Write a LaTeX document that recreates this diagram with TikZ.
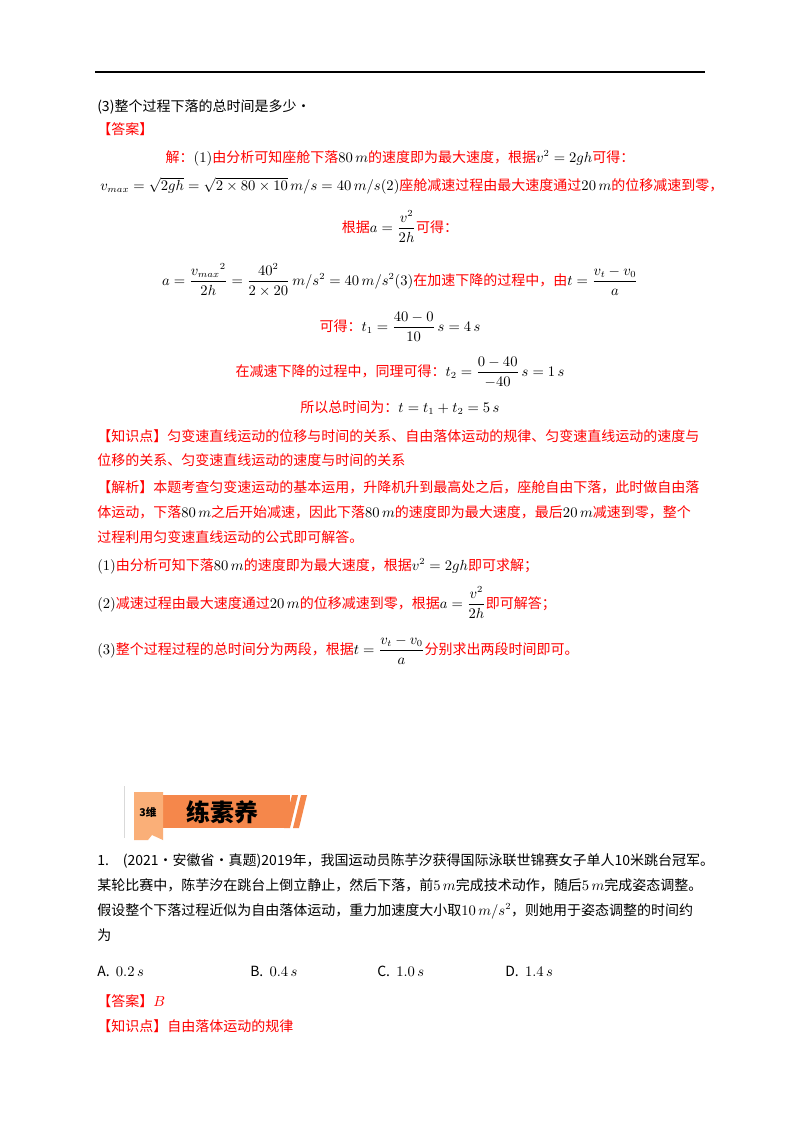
\documentclass[tikz,border=0pt]{standalone}
\usepackage{fontspec}
\usepackage{amsmath}
\setmainfont{Noto Sans CJK SC}
\begin{document}
\begin{tikzpicture}[x=0.75pt,y=-0.75pt,
  t/.style={anchor=base west,inner sep=0pt,font=\fontsize{10.5}{13}\selectfont},
  c/.style={anchor=base,inner sep=0pt,font=\fontsize{10.5}{13}\selectfont},
  r/.style={text=red}]
\definecolor{bo}{RGB}{245,135,75}
\definecolor{bl}{RGB}{250,175,120}
\useasboundingbox (0,0) rectangle (800,1132);
\fill[white] (0,0) rectangle (800,1132);
\draw[line width=0.8pt] (95,72) coordinate(ra) -- (705,72) coordinate(rb);
\node[t] (l1) at (97,111) {(3)整个过程下落的总时间是多少·};
\node[t,r] (l2) at (97,134) {【答案】};
\node[c] (l3) at (400,162) {\textcolor{red}{解：}$(1)$\textcolor{red}{由分析可知座舱下落}$80\,m$\textcolor{red}{的速度即为最大速度，根据}$v^2=2gh$\textcolor{red}{可得：}};
\node[t] (l4) at (100,190) {$v_{max}=\sqrt{2gh}=\sqrt{2\times80\times10}\,m/s=40\,m/s(2)$\textcolor{red}{座舱减速过程由最大速度通过}$20\,m$\textcolor{red}{的位移减速到零，}};
\node[c] (l5) at (400,232) {\textcolor{red}{根据}$a=\dfrac{v^2}{2h}$\textcolor{red}{可得：}};
\node[c] (l6) at (400,285) {$a=\dfrac{{v_{max}}^2}{2h}=\dfrac{40^2}{2\times20}\,m/s^2=40\,m/s^2(3)$\textcolor{red}{在加速下降的过程中，由}$t=\dfrac{v_t-v_0}{a}$};
\node[c] (l7) at (400,331) {\textcolor{red}{可得：}$t_1=\dfrac{40-0}{10}\,s=4\,s$};
\node[c] (l8) at (400,376) {\textcolor{red}{在减速下降的过程中，同理可得：}$t_2=\dfrac{0-40}{-40}\,s=1\,s$};
\node[c] (l9) at (400,412) {\textcolor{red}{所以总时间为：}$t=t_1+t_2=5\,s$};
\node[t,r] (l10) at (97,441) {【知识点】匀变速直线运动的位移与时间的关系、自由落体运动的规律、匀变速直线运动的速度与};
\node[t,r] (l11) at (97,465) {位移的关系、匀变速直线运动的速度与时间的关系};
\node[t,r] (l12) at (97,492) {【解析】本题考查匀变速运动的基本运用，升降机升到最高处之后，座舱自由下落，此时做自由落};
\node[t] (l13) at (97,517) {\textcolor{red}{体运动，下落}$80\,m$\textcolor{red}{之后开始减速，因此下落}$80\,m$\textcolor{red}{的速度即为最大速度，最后}$20\,m$\textcolor{red}{减速到零，整个}};
\node[t,r] (l14) at (97,542) {过程利用匀变速直线运动的公式即可解答。};
\node[t] (l15) at (97,570) {$(1)$\textcolor{red}{由分析可知下落}$80\,m$\textcolor{red}{的速度即为最大速度，根据}$v^2=2gh$\textcolor{red}{即可求解；}};
\node[t] (l16) at (97,608) {$(2)$\textcolor{red}{减速过程由最大速度通过}$20\,m$\textcolor{red}{的位移减速到零，根据}$a=\dfrac{v^2}{2h}$\textcolor{red}{即可解答；}};
\node[t] (l17) at (97,654) {$(3)$\textcolor{red}{整个过程过程的总时间分为两段，根据}$t=\dfrac{v_t-v_0}{a}$\textcolor{red}{分别求出两段时间即可。}};
% banner
\draw[gray!30,line width=0.6pt] (124,786) -- (124,838);
\fill[bo] (160,795) rectangle (290,828);
\fill[bo] (292,795) -- (298,795) -- (290,828) -- (284,828) -- cycle;
\fill[bo] (301,795) -- (307,795) -- (299,828) -- (293,828) -- cycle;
\fill[bl] (134,792) -- (163,792) -- (163,840) -- (152,835) -- (148,840) -- (134,840) -- cycle;
\node[font=\fontsize{8}{9}\selectfont\bfseries,inner sep=0pt] (b1) at (148,812) {3维};
\node[font=\fontsize{18}{20}\selectfont\bfseries,inner sep=0pt] (b2) at (222,812) {练素养};
\node[t] (q1) at (97,865) {1.\quad (2021·安徽省·真题)2019年，我国运动员陈芋汐获得国际泳联世锦赛女子单人10米跳台冠军。};
\node[t] (q2) at (97,890) {某轮比赛中，陈芋汐在跳台上倒立静止，然后下落，前$5\,m$完成技术动作，随后$5\,m$完成姿态调整。};
\node[t] (q3) at (97,915) {假设整个下落过程近似为自由落体运动，重力加速度大小取$10\,m/s^2$，则她用于姿态调整的时间约};
\node[t] (q4) at (97,940) {为};
\node[t] (oa) at (97,976) {A.\ \ $0.2\,s$};
\node[t] (ob) at (250,976) {B.\ \ $0.4\,s$};
\node[t] (oc) at (377,976) {C.\ \ $1.0\,s$};
\node[t] (od) at (505,976) {D.\ \ $1.4\,s$};
\node[t,r] (an) at (97,1006) {【答案】$B$};
\node[t,r] (kp) at (97,1031) {【知识点】自由落体运动的规律};
\end{tikzpicture}
\end{document}
